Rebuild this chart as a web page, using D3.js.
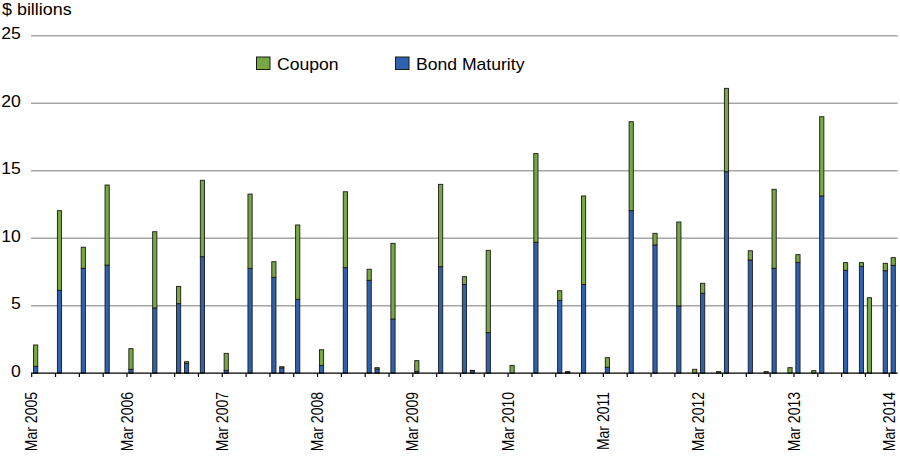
<!DOCTYPE html>
<html><head><meta charset="utf-8">
<script src="https://cdn.jsdelivr.net/npm/d3@7/dist/d3.min.js"></script>
<style>
body{margin:0;background:#fff}
svg{display:block}
text{font-family:"Liberation Sans",Arial,Helvetica,sans-serif;fill:#000}
</style>
</head><body>
<svg id="chart" width="900" height="456"></svg>
<script>
// ---- data ----
const paymentMonths = ["Mar 2005","Jun 2005","Sep 2005","Dec 2005","Mar 2006","Jun 2006","Sep 2006","Oct 2006","Dec 2006",
  "Mar 2007","Jun 2007","Sep 2007","Oct 2007","Dec 2007","Mar 2008","Jun 2008","Sep 2008","Oct 2008","Dec 2008",
  "Mar 2009","Jun 2009","Sep 2009","Oct 2009","Dec 2009","Mar 2010","Jun 2010","Sep 2010","Oct 2010","Dec 2010",
  "Mar 2011","Jun 2011","Sep 2011","Dec 2011","Feb 2012","Mar 2012","May 2012","Jun 2012","Sep 2012","Nov 2012",
  "Dec 2012","Feb 2013","Mar 2013","May 2013","Jun 2013","Sep 2013","Nov 2013","Dec 2013","Feb 2014","Mar 2014"];
const bondMaturity = [0.51,6.14,7.77,8.01,0.29,4.83,5.15,0.73,8.63,
  0.21,7.77,7.10,0.39,5.47,0.58,7.82,6.88,0.31,4.01,
  0.14,7.89,6.58,0.19,3.00,0,9.70,5.40,0.08,6.58,
  0.44,12.04,9.50,4.98,0,5.92,0,14.93,8.39,0,
  7.77,0,8.21,0,13.13,7.62,7.92,0,7.59,7.99];
const coupon = [1.58,5.90,1.56,5.93,1.53,5.65,1.28,0.12,5.66,
  1.26,5.50,1.16,0.09,5.51,1.16,5.62,0.82,0.10,5.61,
  0.79,6.10,0.57,0.02,6.10,0.58,6.57,0.71,0.04,6.55,
  0.71,6.59,0.86,6.22,0.29,0.74,0.12,6.17,0.68,0.12,
  5.85,0.41,0.57,0.19,5.87,0.57,0.27,5.59,0.55,0.57];
const seriesNames = ["Coupon","Bond Maturity"];
const seriesColors = ["#77a843","#2f62ae"];
const yTickValues = [0,5,10,15,20,25];
const axisStart = "Mar 2005", axisEnd = "Mar 2014";

// ---- build ----
const parse = d3.timeParse("%b %Y"), fmt = d3.timeFormat("%b %Y");
const allMonths = d3.timeMonth.range(parse(axisStart), d3.timeMonth.offset(parse(axisEnd), 1)).map(fmt);
const rows = paymentMonths.map((m, i) => ({month: m, bond: bondMaturity[i], coupon: coupon[i]}));

const svg = d3.select("#chart");
const plotLeft = 31.7, plotRight = 897.2, yTop = 35.7, yBase = 373.2;
const x = d3.scaleBand().domain(allMonths).range([plotLeft, plotRight]).padding(0);
const y = d3.scaleLinear().domain([0, 25]).range([yBase, yTop]);
const barW = 4.2;
const SX = 1.1; // horizontal text stretch

// gridlines
svg.append("g").selectAll("line").data(yTickValues.filter(v => v > 0)).join("line")
  .attr("x1", plotLeft - 0.7).attr("x2", plotRight + 0.5)
  .attr("y1", d => y(d)).attr("y2", d => y(d))
  .attr("stroke", "#a6a6a6").attr("stroke-width", 1.4);

// y tick labels
svg.append("g").selectAll("text").data(yTickValues).join("text")
  .attr("transform", d => `translate(20.8,${y(d) + 3.6}) scale(${SX},1)`)
  .attr("text-anchor", "end").attr("font-size", 16).text(d => d);

// y title
svg.append("text").attr("transform", `translate(2,14.5) scale(1.12,1)`)
  .attr("font-size", 16).text("$ billions");

// stacked bars
const stack = d3.stack().keys(["bond", "coupon"]);
const layers = stack(rows);
const colorFor = {bond: seriesColors[1], coupon: seriesColors[0]};
svg.append("g").selectAll("g").data(layers).join("g")
  .attr("fill", d => colorFor[d.key])
  .selectAll("rect").data(d => d.filter(p => p[1] - p[0] > 0)).join("rect")
  .attr("x", d => x(d.data.month) + (x.bandwidth() - barW) / 2)
  .attr("width", barW)
  .attr("y", d => y(d[1]))
  .attr("height", d => y(d[0]) - y(d[1]))
  .attr("stroke", "#1a1a1a").attr("stroke-width", 0.9);

// x axis baseline
svg.append("line").attr("x1", plotLeft - 0.7).attr("x2", plotRight + 0.5)
  .attr("y1", yBase).attr("y2", yBase).attr("stroke", "#000").attr("stroke-width", 1.2);

// quarterly ticks
const quarterMonths = allMonths.filter((m, i) => i % 3 === 0);
svg.append("g").selectAll("line").data(quarterMonths).join("line")
  .attr("x1", d => x(d)).attr("x2", d => x(d))
  .attr("y1", yBase).attr("y2", yBase + 3.8)
  .attr("stroke", "#000").attr("stroke-width", 1.2);

// yearly labels
const labelMonths = allMonths.filter((m, i) => i % 12 === 0);
svg.append("g").selectAll("text").data(labelMonths).join("text")
  .attr("transform", d => `translate(${x(d)},392) scale(1.12,1) rotate(-90)`)
  .attr("text-anchor", "end").attr("dy", "0.36em").attr("font-size", 14).text(d => d);

// legend
const legendItems = [{name: seriesNames[0], color: seriesColors[0], x: 256.5},
                     {name: seriesNames[1], color: seriesColors[1], x: 395.5}];
const lg = svg.append("g").selectAll("g").data(legendItems).join("g");
lg.append("rect").attr("x", d => d.x).attr("y", 57).attr("width", 13.5).attr("height", 12.5)
  .attr("fill", d => d.color).attr("stroke", "#1a1a1a").attr("stroke-width", 1);
lg.append("text").attr("transform", d => `translate(${d.x + 20.5},69.5) scale(${SX},1)`)
  .attr("font-size", 16).text(d => d.name);
</script>
</body></html>
